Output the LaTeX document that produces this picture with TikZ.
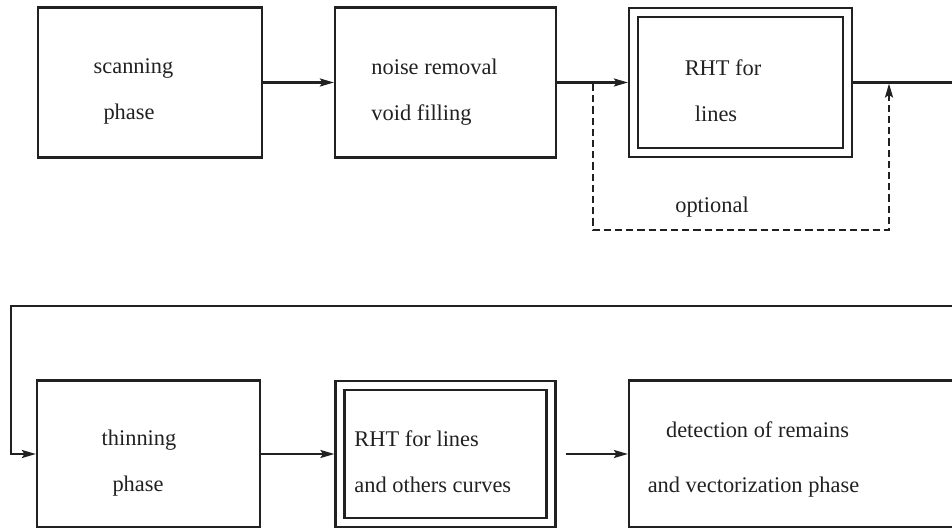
\documentclass[tikz,border=0pt]{standalone}
\usepackage{fontspec}
\setmainfont{Liberation Serif}
\usetikzlibrary{arrows.meta}
\definecolor{ink}{gray}{0.13}
\begin{document}
\begin{tikzpicture}[x=0.5pt,y=-0.5pt,
  every node/.style={font=\fontsize{11.2}{13}\selectfont, inner sep=0pt, text=ink},
  box/.style={draw=ink, line width=1.1pt, rectangle, inner sep=0pt},
  dbox/.style={box, double, double distance=3.4pt, outer sep=2.8pt},
  tip/.style={-{Stealth[length=7pt,width=4pt,inset=1.3pt]}},
  flow/.style={draw=ink, line width=1.1pt, tip},
  plain/.style={draw=ink, line width=1.1pt},
  optline/.style={draw=ink, line width=1.1pt, dash pattern=on 3.6pt off 2pt},
  lbl/.style={anchor=base},
  lbll/.style={anchor=base west}]
\clip (0,0) rectangle (952,528);

% upper row
\node[box, minimum width=112pt, minimum height=75pt] (scan) at (150,82.5) {};
\node[box, minimum width=110.5pt, minimum height=75pt] (noise) at (445.5,82.5) {};
\node[dbox, minimum width=107pt, minimum height=70pt] (rhtA) at (740.5,82.5) {};

% lower row
\node[box, minimum width=111.5pt, minimum height=73.5pt] (thin) at (148.5,454) {};
\node[dbox, minimum width=105.5pt, minimum height=68.5pt] (rhtB) at (445.5,454) {};
\node[box, minimum width=167.5pt, minimum height=73.5pt] (det) at (796.5,454) {};

% box texts
\node[lbl]  (scanA)  at (133.5,74) {scanning};
\node[lbl]  (scanB)  at (129,120)  {phase};
\node[lbll] (noiseA) at (371,75)   {noise removal};
\node[lbll] (noiseB) at (371,121)  {void filling};
\node[lbl]  (rhtAa)  at (723,76)   {RHT for};
\node[lbl]  (rhtAb)  at (716,122)  {lines};
\node[lbl]  (thinA)  at (139,446)  {thinning};
\node[lbl]  (thinB)  at (138,492)  {phase};
\node[lbll] (rhtBa)  at (354,447)  {RHT for lines};
\node[lbll] (rhtBb)  at (354,493)  {and others curves};
\node[lbl]  (detA)   at (757.5,438) {detection of remains};
\node[lbl]  (detB)   at (753.5,493) {and vectorization phase};
\node[lbl]  (opt)    at (712,213)  {optional};

% connectors of the upper row
\draw[flow] (scan.east) -- (noise.west);
\draw[flow] (noise.east) -- (rhtA.west);
\coordinate (exitR) at (952,82.5);
\draw[plain] (rhtA.east) -- (exitR);

% optional bypass around the line detector
\coordinate (optA) at (593,84);
\coordinate (optB) at (889,83.5);
\coordinate (optC) at (593,230);
\draw[optline, tip] (optA) -- (optC) -| (optB);

% return line to the lower row
\coordinate (fbR) at (952,306);
\coordinate (fbL) at (11,306);
\draw[flow] (fbR) -- (fbL) |- (thin.west);

% connectors of the lower row
\draw[flow] (thin.east) -- (rhtB.west);
\draw[flow, shorten <=4.5pt] (rhtB.east) -- (det.west);
\end{tikzpicture}
\end{document}
